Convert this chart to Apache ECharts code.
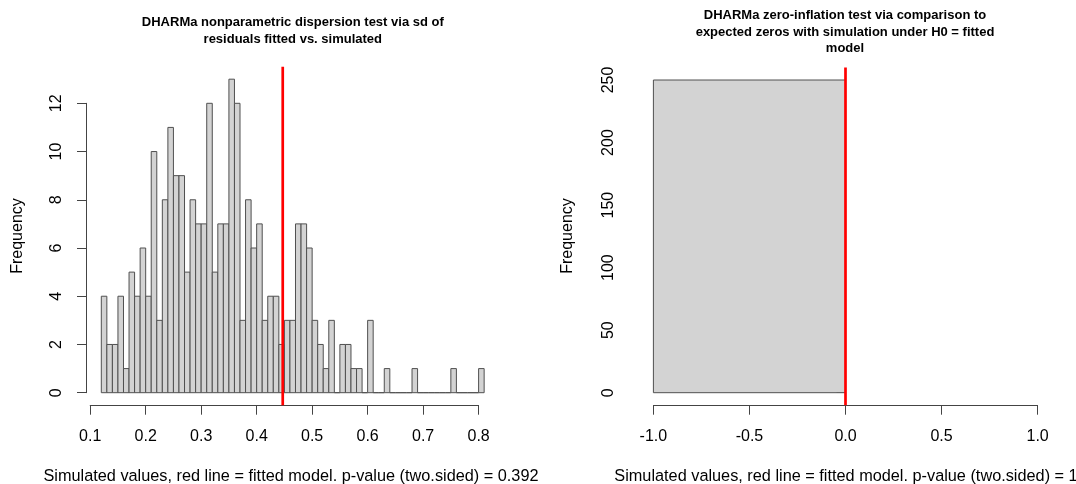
<!DOCTYPE html>
<html>
<head>
<meta charset="utf-8">
<script src="https://cdn.jsdelivr.net/npm/echarts@6/dist/echarts.min.js"></script>
<style>
html,body{margin:0;padding:0;background:#fff;}
#chart{width:1076px;height:484px;}
</style>
</head>
<body>
<div id="chart"></div>
<script>
// ---- Data ----
const leftTitle = 'DHARMa nonparametric dispersion test via sd of\nresiduals fitted vs. simulated';
const rightTitle = 'DHARMa zero-inflation test via comparison to\nexpected zeros with simulation under H0 = fitted\nmodel';
const leftXLabel = 'Simulated values, red line = fitted model. p-value (two.sided) = 0.392';
const rightXLabel = 'Simulated values, red line = fitted model. p-value (two.sided) = 1';
const yLabel = 'Frequency';

// left histogram: bin left edges (width 0.01) and counts
const binWidth = 0.01;
const binLefts = [0.12,0.13,0.14,0.15,0.16,0.17,0.18,0.19,0.20,0.21,
  0.22,0.23,0.24,0.25,0.26,0.27,0.28,0.29,0.30,0.31,
  0.32,0.33,0.34,0.35,0.36,0.37,0.38,0.39,0.40,0.41,
  0.42,0.43,0.44,0.45,0.46,0.47,0.48,0.49,0.50,0.51,
  0.52,0.53,0.54,0.55,0.56,0.57,0.58,0.59,0.60,0.61,
  0.62,0.63,0.64,0.65,0.66,0.67,0.68,0.69,0.70,0.71,
  0.72,0.73,0.74,0.75,0.76,0.77,0.78,0.79,0.80];
const counts = [4,2,2,4,1,5,4,6,4,10,
  3,8,11,9,9,5,8,7,7,12,
  5,7,7,13,12,3,8,6,7,3,
  4,4,2,3,3,7,7,6,3,2,
  1,3,0,2,2,1,1,0,3,0,
  0,1,0,0,0,0,1,0,0,0,
  0,0,0,1,0,0,0,0,1];
const leftObserved = 0.447;
const leftXTicks = [0.1, 0.8, 0.1];   // min, max, interval
const leftYTicks = [0, 12, 2];

// right histogram
const rightBins = [[-1, 0]];
const rightCounts = [250];
const rightObserved = 0;
const rightXTicks = [-1, 1, 0.5];
const rightYTicks = [0, 250, 50];

// ---- Build ----
const FONT = 'Liberation Sans, Arial, sans-serif';
const chart = echarts.init(document.getElementById('chart'), null, {renderer: 'canvas'});

function histData(lefts, width, vals) {
  return vals.map((v, i) => [lefts[i], lefts[i] + width, v]);
}
function renderRect(params, api) {
  const p0 = api.coord([api.value(0), 0]);
  const p1 = api.coord([api.value(1), api.value(2)]);
  return {
    type: 'rect',
    shape: {x: p0[0], y: p1[1], width: p1[0] - p0[0], height: p0[1] - p1[1]},
    style: {fill: '#d3d3d3', stroke: '#505050', lineWidth: 1}
  };
}
function xAxisCfg(idx, t) {
  return {
    type: 'value', gridIndex: idx, min: t[0], max: t[1], interval: t[2], offset: 13,
    axisLine: {show: true, onZero: false, lineStyle: {color: '#444', width: 1}},
    axisTick: {show: true, length: 9, lineStyle: {color: '#444', width: 1}},
    axisLabel: {show: true, margin: 22.5, color: '#000', fontSize: 16, fontFamily: FONT,
      formatter: v => v.toFixed(1)},
    splitLine: {show: false}
  };
}
function yAxisCfg(idx, t, off) {
  return {
    type: 'value', gridIndex: idx, min: t[0], max: t[1], interval: t[2], offset: off,
    axisLine: {show: true, lineStyle: {color: '#444', width: 1}},
    axisTick: {show: true, length: 9, lineStyle: {color: '#444', width: 1}},
    axisLabel: {show: true, rotate: 90, margin: 21, color: '#000', fontSize: 16, fontFamily: FONT},
    splitLine: {show: false}
  };
}
const maxL = Math.max(...counts), maxR = Math.max(...rightCounts);

const option = {
  backgroundColor: '#ffffff',
  animation: false,
  title: [
    {text: leftTitle, left: 292.8, top: 14, textAlign: 'center', padding: 0,
     textStyle: {fontSize: 13, fontWeight: 'bold', lineHeight: 17, fontFamily: FONT, color: '#000'}},
    {text: rightTitle, left: 845, top: 7.3, textAlign: 'center', padding: 0,
     textStyle: {fontSize: 13, fontWeight: 'bold', lineHeight: 16.5, fontFamily: FONT, color: '#000'}}
  ],
  grid: [
    {left: 90.2, right: 1076 - 478.6, top: 103.3, bottom: 484 - 392.7},
    {left: 653.4, right: 1076 - 1037.6, top: 80, bottom: 484 - 392.7}
  ],
  xAxis: [xAxisCfg(0, leftXTicks), xAxisCfg(1, rightXTicks)],
  yAxis: [yAxisCfg(0, leftYTicks, 4.2), yAxisCfg(1, rightYTicks, 16.1)],
  series: [
    {type: 'custom', xAxisIndex: 0, yAxisIndex: 0, clip: false, renderItem: renderRect,
     data: histData(binLefts, binWidth, counts), silent: true},
    {type: 'line', xAxisIndex: 0, yAxisIndex: 0, clip: false, symbol: 'none', silent: true,
     data: [[leftObserved, -0.04 * maxL], [leftObserved, 1.04 * maxL]],
     lineStyle: {color: '#ff0000', width: 2.7}},
    {type: 'custom', xAxisIndex: 1, yAxisIndex: 1, clip: false, renderItem: renderRect,
     data: rightBins.map((b, i) => [b[0], b[1], rightCounts[i]]), silent: true},
    {type: 'line', xAxisIndex: 1, yAxisIndex: 1, clip: false, symbol: 'none', silent: true,
     data: [[rightObserved, -0.04 * maxR], [rightObserved, 1.04 * maxR]],
     lineStyle: {color: '#ff0000', width: 2.7}}
  ],
  graphic: [
    {type: 'text', x: 291, y: 477, style: {text: leftXLabel, align: 'center', verticalAlign: 'middle', font: '16.3px ' + FONT, fill: '#000'}},
    {type: 'text', x: 846, y: 477, style: {text: rightXLabel, align: 'center', verticalAlign: 'middle', font: '16.3px ' + FONT, fill: '#000'}},
    {type: 'text', x: 18, y: 236, rotation: Math.PI / 2, style: {text: yLabel, align: 'center', verticalAlign: 'middle', font: '16px ' + FONT, fill: '#000'}},
    {type: 'text', x: 568, y: 236, rotation: Math.PI / 2, style: {text: yLabel, align: 'center', verticalAlign: 'middle', font: '16px ' + FONT, fill: '#000'}}
  ]
};
chart.setOption(option);
</script>
</body>
</html>
